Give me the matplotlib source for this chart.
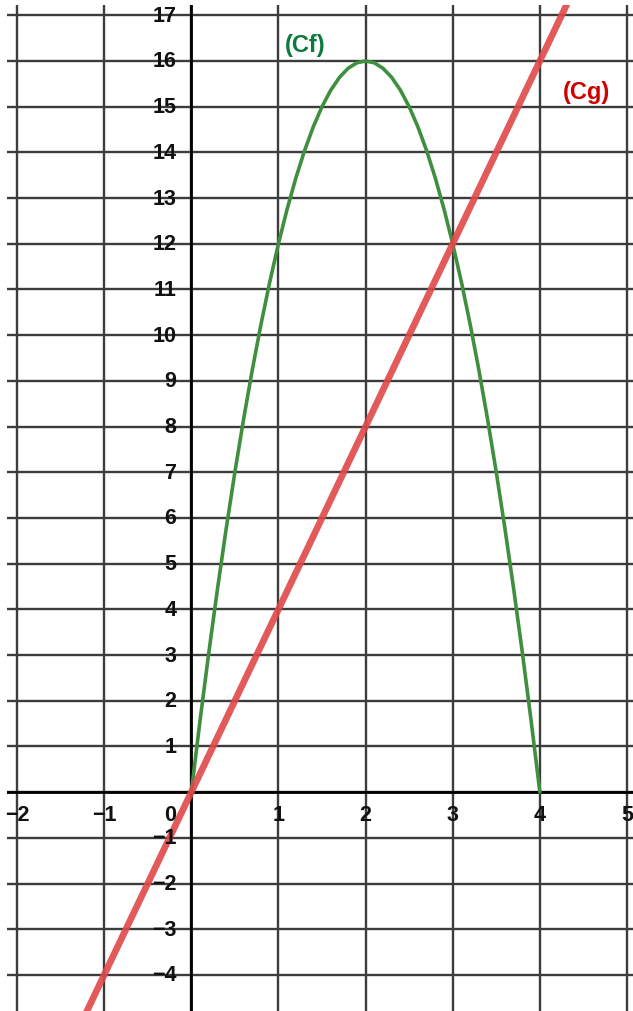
import matplotlib
matplotlib.use("Agg")
import matplotlib.pyplot as plt

# ---- data ----
f_x = [0.0, 0.1, 0.2, 0.3, 0.4, 0.5, 0.6, 0.7, 0.8, 0.9, 1.0,
       1.1, 1.2, 1.3, 1.4, 1.5, 1.6, 1.7, 1.8, 1.9, 2.0,
       2.1, 2.2, 2.3, 2.4, 2.5, 2.6, 2.7, 2.8, 2.9, 3.0,
       3.1, 3.2, 3.3, 3.4, 3.5, 3.6, 3.7, 3.8, 3.9, 4.0]
f_y = [0.0, 1.56, 3.04, 4.44, 5.76, 7.0, 8.16, 9.24, 10.24, 11.16, 12.0,
       12.76, 13.44, 14.04, 14.56, 15.0, 15.36, 15.64, 15.84, 15.96, 16.0,
       15.96, 15.84, 15.64, 15.36, 15.0, 14.56, 14.04, 13.44, 12.76, 12.0,
       11.16, 10.24, 9.24, 8.16, 7.0, 5.76, 4.44, 3.04, 1.56, 0.0]
g_x = [-2.0, 5.0]
g_y = [-8.0, 20.0]
x_ticks = [-2, -1, 1, 2, 3, 4, 5]
x_tick_labels = ["−2", "−1", "1", "2", "3", "4", "5"]
y_ticks = [-4, -3, -2, -1, 1, 2, 3, 4, 5, 6, 7, 8, 9, 10, 11, 12, 13, 14, 15, 16, 17]
y_tick_labels = ["−4", "−3", "−2", "−1"] + [str(v) for v in range(1, 18)]
curve_labels = ["(Cf)", "(Cg)"]

W, H = 633, 1012
fig = plt.figure(figsize=(W / 100, H / 100), dpi=100)
ax = fig.add_axes([7 / W, 0, (W - 7) / W, (H - 6) / H])
ax.set_xlim(-2.115, 5.069)
ax.set_ylim(-4.79, 17.225)

for s in ax.spines.values():
    s.set_visible(False)
ax.set_xticks(range(-2, 6))
ax.set_yticks(range(-4, 18))
ax.tick_params(length=0, labelbottom=False, labelleft=False)
ax.grid(True, color="#3c3c3c", linewidth=1.7)
ax.set_axisbelow(True)

ax.axhline(0, color="black", linewidth=2.0, zorder=2)
ax.axvline(0, color="black", linewidth=2.0, zorder=2)

ax.plot(f_x, f_y, color="#3f8f3f", linewidth=2.6, zorder=3, solid_capstyle="round",
        solid_joinstyle="round")
ax.plot(g_x, g_y, color="#e04848", alpha=0.9, linewidth=4.8, zorder=4)

tick_font = dict(family=["Liberation Sans", "DejaVu Sans"], fontsize=15.5, fontweight="bold", color="#111111")
for xv, lab in zip(x_ticks, x_tick_labels):
    ax.text(xv, -0.48, lab, ha="center", va="center", zorder=5, **tick_font)
for yv, lab in zip(y_ticks, y_tick_labels):
    ax.text(-0.17, yv, lab, ha="right", va="center", zorder=5, **tick_font)
ax.text(-0.17, -0.48, "0", ha="right", va="center", zorder=5, **tick_font)

ax.text(1.31, 16.37, curve_labels[0], color="#0b7a3e", fontsize=17, fontweight="bold",
        family=["Liberation Sans", "DejaVu Sans"], ha="center", va="center", zorder=5)
ax.text(4.53, 15.34, curve_labels[1], color="#d00000", fontsize=17, fontweight="bold",
        family=["Liberation Sans", "DejaVu Sans"], ha="center", va="center", zorder=5)

fig.savefig("out.png", dpi=100, facecolor="white")
